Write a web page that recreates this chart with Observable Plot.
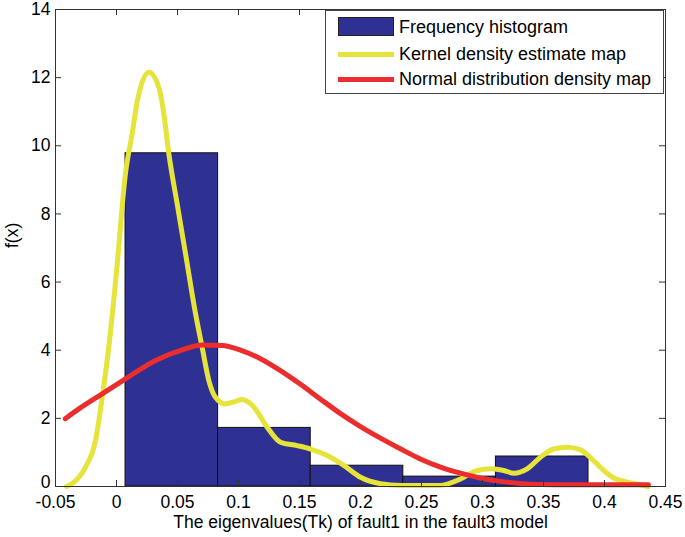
<!DOCTYPE html>
<html>
<head>
<meta charset="utf-8">
<script src="https://cdn.jsdelivr.net/npm/d3@7"></script>
<script src="https://cdn.jsdelivr.net/npm/@observablehq/plot@0.6"></script>
<style>
  html, body { margin: 0; padding: 0; background: #fff; }
  #wrap { position: relative; width: 685px; height: 537px; font-family: "Liberation Sans", Arial, sans-serif; }
  #legend { position: absolute; left: 325px; top: 10px; width: 339px; height: 84px; border: 1px solid #444; background: #fff; box-sizing: border-box; }
  .row { position: absolute; left: 0; height: 24px; width: 100%; }
  .sw { position: absolute; left: 12px; width: 56px; }
  .lbl { position: absolute; left: 73px; top: 0; line-height: 24px; font-size: 18px; color: #000; white-space: nowrap; }
</style>
</head>
<body>
<div id="wrap"></div>
<script>
// ---- data ----
const binEdges = [0.0074, 0.0833, 0.1592, 0.2351, 0.3110, 0.3869];
const binHeights = [9.78, 1.72, 0.61, 0.29, 0.88];

const kdeX = [-0.041, -0.035, -0.0254, -0.0172, -0.0117, -0.0063, 0.0, 0.0074, 0.0128, 0.017, 0.0265, 0.0347, 0.0388, 0.0429, 0.0497, 0.0566, 0.0648, 0.0702, 0.0757, 0.0811, 0.0893, 0.0975, 0.103, 0.1126, 0.1235, 0.1344, 0.148, 0.159, 0.1727, 0.1863, 0.2, 0.2164, 0.233, 0.265, 0.282, 0.2956, 0.3066, 0.3175, 0.3257, 0.3366, 0.3475, 0.3585, 0.3694, 0.380, 0.391, 0.3995, 0.4076, 0.4186, 0.4295, 0.436];
const kdeY = [0.0, 0.12, 0.57, 1.35, 2.62, 4.09, 6.3, 9.2, 10.35, 11.3, 12.16, 11.72, 10.94, 9.77, 8.3, 6.83, 5.07, 4.09, 3.11, 2.62, 2.42, 2.5, 2.55, 2.33, 1.74, 1.30, 1.20, 1.10, 0.91, 0.62, 0.27, 0.08, 0.03, 0.03, 0.22, 0.47, 0.52, 0.47, 0.39, 0.52, 0.86, 1.1, 1.15, 1.08, 0.76, 0.47, 0.25, 0.13, 0.05, 0.0];

const normX = [-0.042, -0.03, -0.0117, 0.0074, 0.032, 0.0538, 0.0702, 0.0866, 0.1016, 0.118, 0.1344, 0.1508, 0.167, 0.1836, 0.2, 0.2164, 0.233, 0.249, 0.2656, 0.282, 0.298, 0.315, 0.331, 0.3475, 0.37, 0.40, 0.436];
const normY = [1.99, 2.3, 2.72, 3.16, 3.70, 4.01, 4.15, 4.14, 4.0, 3.75, 3.4, 3.0, 2.57, 2.14, 1.76, 1.42, 1.1, 0.81, 0.57, 0.39, 0.25, 0.15, 0.09, 0.06, 0.05, 0.05, 0.05];

const xTicks = [-0.05, 0, 0.05, 0.1, 0.15, 0.2, 0.25, 0.3, 0.35, 0.4, 0.45];
const yTicks = [0, 2, 4, 6, 8, 10, 12, 14];
const xTickLabels = ["-0.05", "0", "0.05", "0.1", "0.15", "0.2", "0.25", "0.3", "0.35", "0.4", "0.45"];

const seriesNames = ["Frequency histogram", "Kernel density estimate map", "Normal distribution density map"];
const colors = {bar: "#2e3192", kde: "#e6e33a", norm: "#ec2d2d"};

// ---- build tables ----
const bars = binHeights.map((h, i) => ({x1: binEdges[i], x2: binEdges[i + 1], y: h}));
const kde = kdeX.map((x, i) => ({x, y: kdeY[i]}));
const norm = normX.map((x, i) => ({x, y: normY[i]}));

const W = 685, H = 537;
const mL = 55, mR = 20, mT = 9, mB = 51;
const plotW = W - mL - mR, plotH = H - mT - mB;
const tk = 6;
const FS = 17.5;

const chart = Plot.plot({
  width: W, height: H,
  marginLeft: mL, marginRight: mR, marginTop: mT, marginBottom: mB,
  style: {fontFamily: "'Liberation Sans', Arial, sans-serif", fontSize: FS + "px", color: "#000", background: "white"},
  x: {domain: [-0.05, 0.45]},
  y: {domain: [0, 14]},
  marks: [
    Plot.rectY(bars, {x1: "x1", x2: "x2", y: "y", fill: colors.bar, stroke: "#111", strokeWidth: 1}),
    Plot.line(kde, {x: "x", y: "y", stroke: colors.kde, strokeWidth: 5, curve: "monotone-x"}),
    Plot.line(norm, {x: "x", y: "y", stroke: colors.norm, strokeWidth: 5, curve: "monotone-x"}),
    // inward ticks (MATLAB style) on all four sides
    Plot.ruleX(xTicks, {x: d => d, insetTop: plotH - tk, stroke: "#333"}),
    Plot.ruleX(xTicks, {x: d => d, insetBottom: plotH - tk, stroke: "#333"}),
    Plot.ruleY(yTicks, {y: d => d, insetRight: plotW - tk, stroke: "#333"}),
    Plot.ruleY(yTicks, {y: d => d, insetLeft: plotW - tk, stroke: "#333"}),
    Plot.axisX(xTicks, {tickSize: 0, tickPadding: 9, tickFormat: (d, i) => xTickLabels[i], label: null, fontSize: FS}),
    Plot.axisY(yTicks.slice(1), {tickSize: 0, tickPadding: 5, label: null, fontSize: FS}),
    Plot.axisY(yTicks.slice(0, 1), {tickSize: 0, tickPadding: 5, label: null, fontSize: FS, dy: -4}),
    Plot.frame({stroke: "#333", strokeWidth: 1}),
    Plot.text(["The eigenvalues(Tk) of fault1 in the fault3 model"], {frameAnchor: "bottom", dy: 41, text: d => d, fontSize: FS, fill: "#000"}),
    Plot.text(["f(x)"], {frameAnchor: "left", dx: -43, text: d => d, rotate: -90, fontSize: FS, fill: "#000"})
  ]
});

const wrap = document.getElementById("wrap");
wrap.appendChild(chart);

// legend overlay
const legend = document.createElement("div");
legend.id = "legend";
const rows = [
  {name: seriesNames[0], type: "patch", color: colors.bar},
  {name: seriesNames[1], type: "line", color: colors.kde},
  {name: seriesNames[2], type: "line", color: colors.norm}
];
const rowTops = [4, 31, 56];
rows.forEach((r, i) => {
  const row = document.createElement("div");
  row.className = "row";
  row.style.top = rowTops[i] + "px";
  const sw = document.createElement("div");
  sw.className = "sw";
  if (r.type === "patch") {
    sw.style.top = "2px"; sw.style.height = "19px"; sw.style.background = r.color; sw.style.border = "1px solid #222"; sw.style.boxSizing = "border-box";
  } else {
    sw.style.top = "10px"; sw.style.height = "5px"; sw.style.background = r.color;
  }
  const lb = document.createElement("div");
  lb.className = "lbl";
  lb.textContent = r.name;
  row.appendChild(sw); row.appendChild(lb);
  legend.appendChild(row);
});
wrap.appendChild(legend);
</script>
</body>
</html>
